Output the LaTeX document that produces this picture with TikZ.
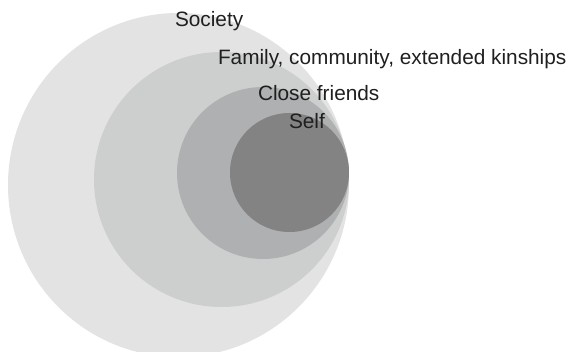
\documentclass[tikz,border=0pt]{standalone}
\usepackage{fontspec}
\setmainfont{Liberation Sans}
\usepackage{tikz}
\usetikzlibrary{shapes.geometric}

\definecolor{ringA}{HTML}{E3E3E3}
\definecolor{ringB}{HTML}{CDCECE}
\definecolor{ringC}{HTML}{AFB0B1}
\definecolor{ringD}{HTML}{838383}

\begin{document}
\begin{tikzpicture}[x=1pt,y=-1pt,inner sep=0pt,outer sep=0pt]
  \tikzstyle{every node}=[font=\fontsize{20.8}{24}\selectfont]
  	\tikzstyle{ring}=[ellipse,draw=none,inner sep=0pt]
  	\tikzstyle{lbl}=[anchor=base west,text=black!88]
\useasboundingbox (0,0) rectangle (578,352);
\node [ring,fill=ringA,minimum width=341pt,minimum height=344pt] (society) at (178.5,185) {};
\node [ring,fill=ringB,minimum width=255pt,minimum height=255pt] (family) at (221.5,179.5) {};
\node [ring,fill=ringC,minimum width=172pt,minimum height=172pt] (friends) at (263,173) {};
\node [ring,fill=ringD,minimum width=119pt,minimum height=119pt] (self) at (289.5,172.5) {};

\node [lbl] (societylbl) at (175,27) {Society};
\node [lbl] (familylbl) at (218,65) {Family, community, extended kinships};
\node [lbl] (friendslbl) at (258,101) {Close friends};
\node [lbl] (selflbl) at (289,128.5) {Self};

	\end{tikzpicture}
\end{document}
